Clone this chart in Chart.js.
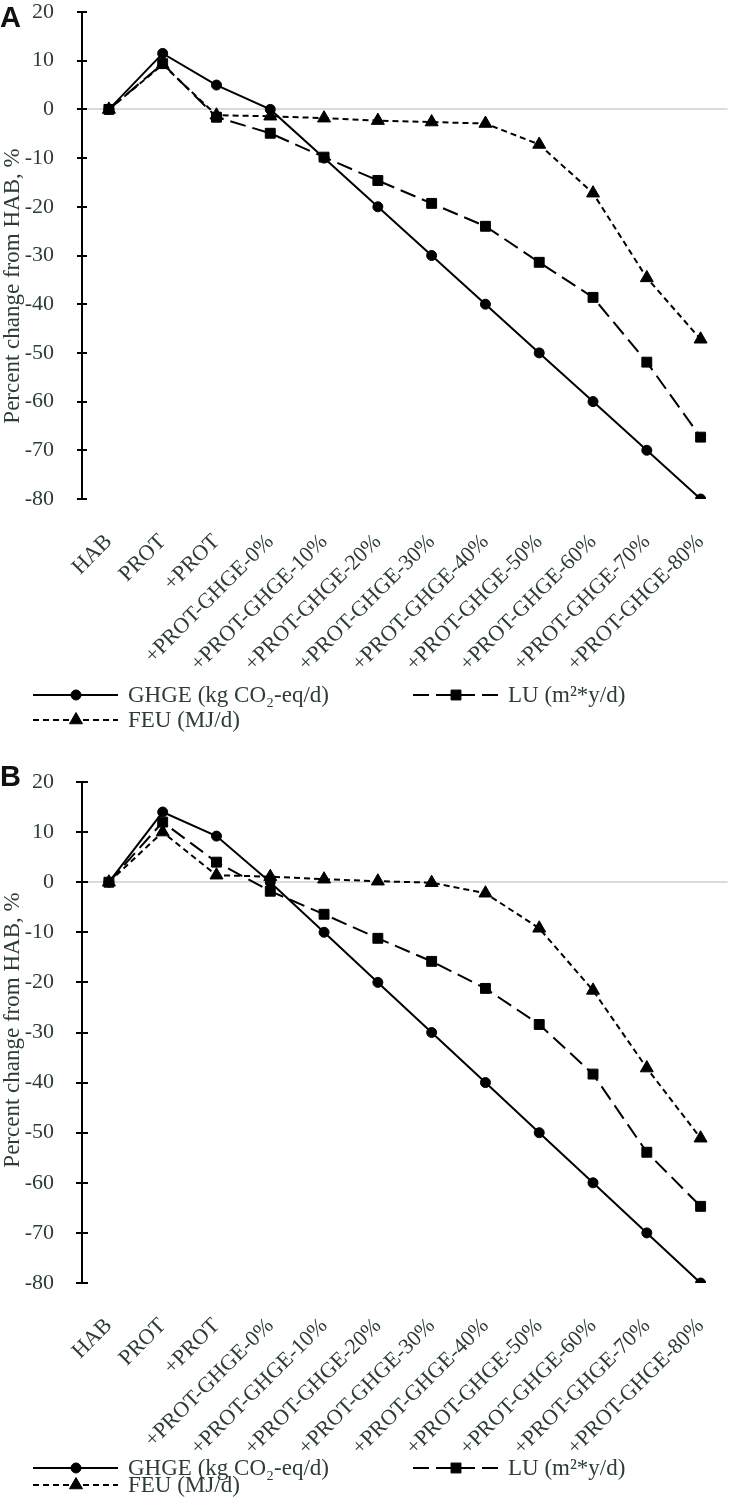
<!DOCTYPE html>
<html><head><meta charset="utf-8">
<script src="https://cdn.jsdelivr.net/npm/chart.js@4.4.0/dist/chart.umd.min.js"></script>
<style>
html,body{margin:0;padding:0;background:#fff;}
#wrapA{position:absolute;left:0;top:0;width:736px;height:750px;}
#wrapB{position:absolute;left:0;top:750px;width:736px;height:757px;}
canvas{display:block;}
</style></head><body>
<div id="wrapA"><canvas id="cA" width="736" height="750"></canvas></div>
<div id="wrapB"><canvas id="cB" width="736" height="757"></canvas></div>
<script>
// ---- data ----
const categories = ['HAB','PROT','+PROT','+PROT-GHGE-0%','+PROT-GHGE-10%','+PROT-GHGE-20%','+PROT-GHGE-30%','+PROT-GHGE-40%','+PROT-GHGE-50%','+PROT-GHGE-60%','+PROT-GHGE-70%','+PROT-GHGE-80%'];
const seriesNames = ['GHGE (kg CO\u2082-eq/d)', 'LU (m\u00b2*y/d)', 'FEU (MJ/d)'];

const ghgeA = [0, 11.5, 5, 0, -10, -20, -30, -40, -50, -60, -70, -80];
const luA   = [0, 9.4, -1.6, -4.9, -9.8, -14.6, -19.3, -24, -31.4, -38.6, -51.9, -67.3];
const feuA  = [0, 9.2, -1.2, -1.4, -1.8, -2.3, -2.6, -2.9, -7.2, -17.2, -34.6, -47.2];

const ghgeB = [0, 14, 9.2, 0, -10, -20, -30, -40, -50, -60, -70, -80];
const luB   = [0, 12, 4, -1.8, -6.4, -11.2, -15.8, -21.2, -28.4, -38.3, -53.9, -64.7];
const feuB  = [0, 10, 1.4, 1.1, 0.6, 0.2, -0.1, -2.2, -9.2, -21.6, -37.1, -51.1];

const yMin = -80, yMax = 20;
const yTitle = 'Percent change from HAB, %';

// ---- styling ----
const TXT = '#2d3b3b';
const SERIF = '"Liberation Serif", "Times New Roman", serif';

const decor = {
  id: 'decor',
  afterDraw(chart, args, o) {
    const ctx = chart.ctx;
    const ys = chart.scales.y;
    ctx.save();
    ctx.strokeStyle = '#000';
    ctx.lineWidth = 2;
    ys.ticks.forEach(t => {
      const y = Math.round(ys.getPixelForValue(t.value));
      ctx.beginPath();
      ctx.moveTo(ys.right - o.tickHalf, y);
      ctx.lineTo(ys.right + o.tickHalf, y);
      ctx.stroke();
    });
    ctx.fillStyle = TXT;
    ctx.font = '23px ' + SERIF;
    ctx.translate(13, o.titleY);
    ctx.rotate(-Math.PI / 2);
    ctx.textAlign = 'center';
    ctx.textBaseline = 'middle';
    ctx.fillText(yTitle, 0, 0);
    ctx.restore();

    ctx.save();
    ctx.fillStyle = '#111';
    ctx.font = 'bold 29px "Liberation Sans", Arial, sans-serif';
    ctx.textBaseline = 'alphabetic';
    ctx.textAlign = 'left';
    ctx.fillText(o.letter, 0, o.letterY);
    ctx.restore();

    const pos = o.legendPos;
    chart.data.datasets.forEach((ds, i) => {
      const [x0, y] = pos[i];
      ctx.save();
      ctx.strokeStyle = ds.borderColor;
      ctx.fillStyle = ds.backgroundColor;
      ctx.lineWidth = ds.borderWidth;
      ctx.setLineDash(ds.borderDash || []);
      ctx.beginPath();
      ctx.moveTo(x0, y);
      ctx.lineTo(x0 + 85, y);
      ctx.stroke();
      ctx.setLineDash([]);
      ctx.lineWidth = 1;
      Chart.helpers.drawPoint(ctx, {pointStyle: ds.pointStyle, radius: ds.pointRadius, rotation: 0, borderWidth: 1}, x0 + 43, y);
      ctx.fillStyle = TXT;
      ctx.font = '23px ' + SERIF;
      ctx.textBaseline = 'middle';
      ctx.textAlign = 'left';
      ctx.fillText(ds.label, x0 + 95, y + 1);
      ctx.restore();
    });
  }
};

function zeroPad(s) { s.paddingTop = 0; s.paddingBottom = 0; s.paddingLeft = 0; s.paddingRight = 0; }

function makeChart(id, H, top, bottom, step, ghge, lu, feu, extra) {
  const mk = (label, data, style, r, dash) => ({
    label, data,
    borderColor: '#000', backgroundColor: '#000',
    borderWidth: 2, borderDash: dash,
    pointStyle: style, pointRadius: r, pointHoverRadius: r,
    pointBorderWidth: 1, pointBackgroundColor: '#000', pointBorderColor: '#000',
    tension: 0, fill: false
  });
  return new Chart(document.getElementById(id), {
    type: 'line',
    data: {
      labels: categories,
      datasets: [
        mk(seriesNames[0], ghge, 'circle', 5, []),
        mk(seriesNames[1], lu, 'rect', 7, [16, 7]),
        mk(seriesNames[2], feu, 'triangle', 7.5, [6, 4])
      ]
    },
    options: {
      responsive: false,
      animation: false,
      events: [],
      layout: { padding: { top: top, right: 3, left: 0, bottom: 0 } },
      plugins: { legend: { display: false }, tooltip: { enabled: false }, decor: extra },
      scales: {
        x: {
          type: 'category',
          offset: true,
          grid: { display: false, drawTicks: false },
          border: { display: false },
          ticks: {
            autoSkip: false, maxRotation: 45, minRotation: 45,
            color: TXT, font: { family: SERIF, size: 22 }, padding: extra.xPad,
            labelOffset: 0
          },
          afterFit(s) { s.height = H - bottom; zeroPad(s); }
        },
        y: {
          min: yMin, max: yMax,
          grid: {
            drawTicks: false,
            color: c => (c.tick && c.tick.value === 0) ? '#d5dddd' : 'rgba(0,0,0,0)',
            lineWidth: 2
          },
          border: { display: true, color: '#000', width: 2 },
          ticks: {
            stepSize: step, color: TXT, font: { family: SERIF, size: 22 }, padding: 28,
            callback: v => (v % 10 === 0 ? String(v) : '')
          },
          afterFit(s) { s.width = 82; zeroPad(s); }
        }
      }
    },
    plugins: [decor]
  });
}

makeChart('cA', 750, 12, 499, 5, ghgeA, luA, feuA, {
  tickHalf: 5, titleY: 286, letter: 'A', letterY: 27, xPad: 30,
  legendPos: [[33, 695], [413, 695], [33, 720]]
});
makeChart('cB', 757, 32, 533, 10, ghgeB, luB, feuB, {
  tickHalf: 6, titleY: 280, letter: 'B', letterY: 36, xPad: 30,
  legendPos: [[33, 718], [413, 718], [33, 735]]
});
</script>
</body></html>
